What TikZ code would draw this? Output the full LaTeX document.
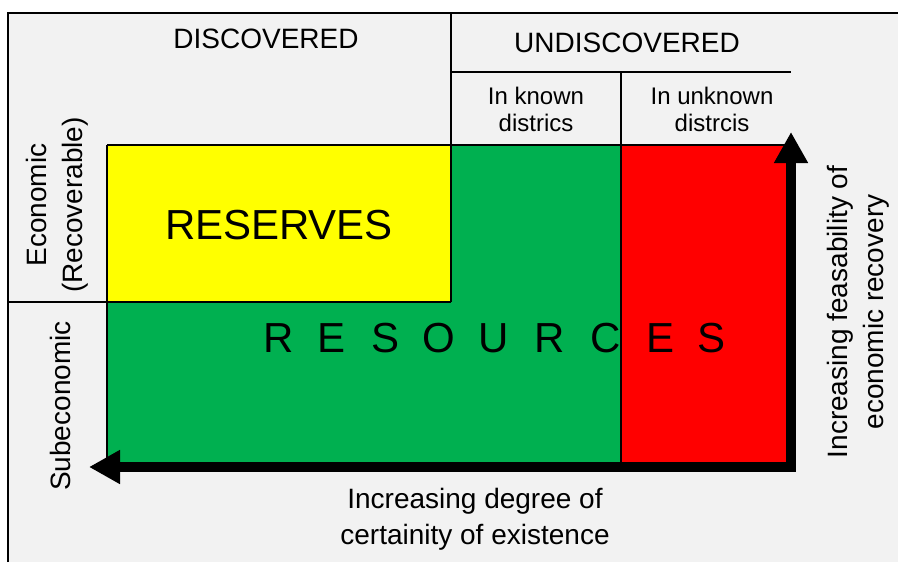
\documentclass[tikz,border=0pt]{standalone}
\usepackage{fontspec}
\setmainfont{Liberation Sans}
\usetikzlibrary{arrows.meta}

\definecolor{fundal}{HTML}{F2F2F2}
\definecolor{galben}{HTML}{FFFF00}
\definecolor{verde}{HTML}{00B050}
\definecolor{rosu}{HTML}{FF0000}

\tikzset{
  eticheta/.style={font=\fontsize{14}{18}\selectfont, align=center},
  mic/.style={font=\fontsize{12}{13.5}\selectfont, align=center},
  mare/.style={font=\fontsize{21}{24}\selectfont},
  chenar/.style={line width=0.75pt, black},
  axa/.style={line width=5pt, line join=miter, {Triangle[length=15.5pt,width=16pt]}-{Triangle[length=15.5pt,width=16pt]}}
}

\begin{document}
\begin{tikzpicture}[x=0.5pt,y=-0.5pt]
  \useasboundingbox (0,0) rectangle (898,562);

  % fundal
  \fill[fundal] (8,13) rectangle (898,562);
  \draw[chenar] (8,562) -- (8,13) -- (898,13);

  % zone colorate
  \fill[galben] (107,145) rectangle (451,302);
  \fill[verde] (451,145) -- (621,145) -- (621,465) -- (107,465) -- (107,302) -- (451,302) -- cycle;
  \fill[rosu] (621,145) rectangle (791,465);

  % chenare
  \draw[chenar] (451,13) -- (451,302);
  \draw[chenar] (451,72) -- (791,72);
  \draw[chenar] (621,72) -- (621,465);
  \draw[chenar] (107,145) -- (791,145);
  \draw[chenar] (8,302) -- (451,302);
  \draw[chenar] (107,145) -- (107,465);

  % săgeți
  \coordinate (colt) at (791,467);
  \coordinate (stanga) at (89,467);
  \coordinate (sus) at (791,132);
  \draw[axa] (stanga) -- (colt) -- (sus);

  % texte
  \node[eticheta] (descoperit) at (266,39) {DISCOVERED};
  \node[eticheta] (nedescoperit) at (627,43) {UNDISCOVERED};
  \node[mic] (cunoscut) at (536,109) {In known\\districs};
  \node[mic] (necunoscut) at (712,109) {In unknown\\distrcis};
  \node[mare] (rezerve) at (279,225) {RESERVES};
  \foreach \x/\c [count=\i] in {279/R,332/E,385/S,439/O,494/U,550/R,606/C,660/E,711/S}
    \node[mare] (resursa\i) at (\x,338) {\c};
  \node[eticheta, rotate=90] (economic) at (57,205) {Economic\\(Recoverable)};
  \node[eticheta, rotate=90] (subeconomic) at (60,406) {Subeconomic};
  \node[eticheta, rotate=90] (fezabilitate) at (858,312) {Increasing feasability of\\economic recovery};
  \node[eticheta] (certitudine) at (475,519) {Increasing degree of\\certainity of existence};
\end{tikzpicture}
\end{document}
